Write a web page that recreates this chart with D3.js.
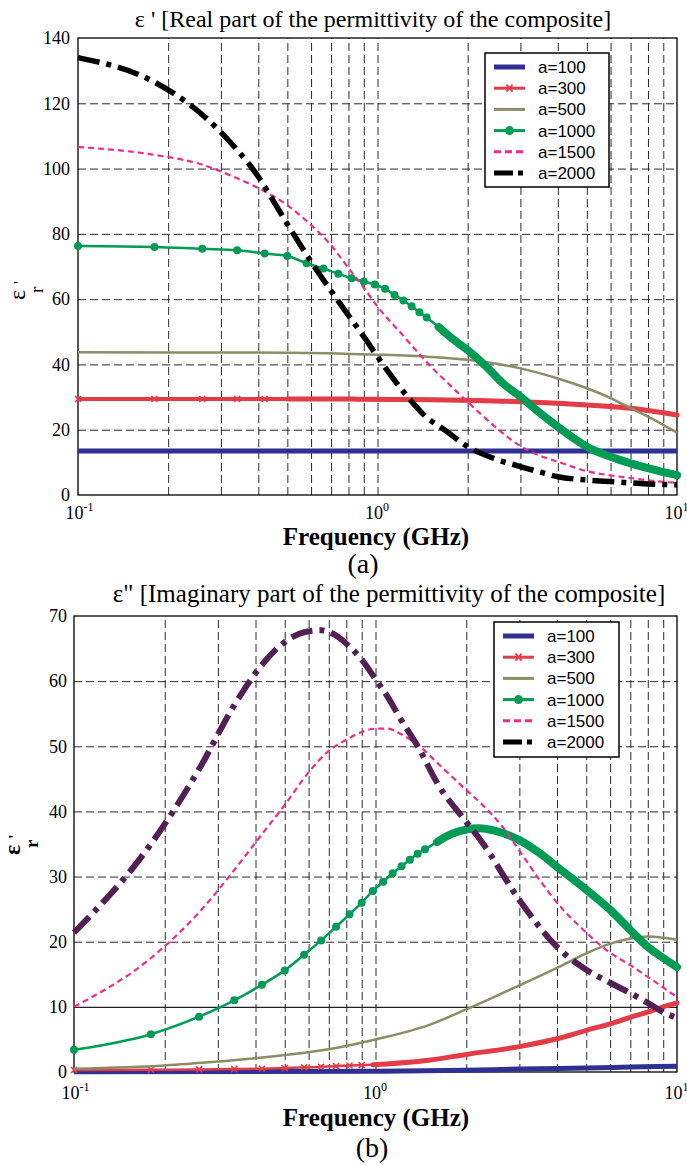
<!DOCTYPE html>
<html>
<head>
<meta charset="utf-8">
<script src="https://cdn.jsdelivr.net/npm/d3@7"></script>
<style>
	body { margin: 0; background: #fff; }
	svg { display: block; }
</style>
</head>
<body>
<div class="content"></div>
<script>
const w = 687;
const h = 1165;

const serif = "'Liberation Serif', 'Times New Roman', serif";
const sans = "'Liberation Sans', Arial, sans-serif";

// ---- data ----
const seriesNames = ['a=100', 'a=300', 'a=500', 'a=1000', 'a=1500', 'a=2000'];
const freqTicks = [0.1, 1, 10];
const tickExponents = ['-1', '0', '1'];
const gridFreqs = [0.2, 0.3, 0.4, 0.5, 0.6, 0.7, 0.8, 0.9, 1, 2, 3, 4, 5, 6, 7, 8, 9];
const realTicks = [0, 20, 40, 60, 80, 100, 120, 140];
const imagTicks = [0, 10, 20, 30, 40, 50, 60, 70];

// (a) real part, [frequency GHz, eps']
const realA100 = [[0.1, 13.5], [1, 13.5], [10, 13.5]];
const realA300 = [[0.1, 29.4], [0.18, 29.4], [0.26, 29.4], [0.34, 29.4], [0.42, 29.4], [0.5, 29.4], [0.58, 29.4],
	[0.66, 29.4], [0.74, 29.4], [0.82, 29.4], [0.9, 29.3], [1.5, 29.2], [2, 29.0], [3, 28.6], [4, 28.1],
	[5, 27.6], [6, 27.1], [7, 26.6], [8, 25.9], [9, 25.2], [10, 24.5]];
const realA500 = [[0.1, 43.7], [0.5, 43.6], [1, 43.0], [1.5, 42.3], [2, 41.4], [2.5, 40.2], [3, 38.8], [4, 35.7],
	[5, 32.7], [6, 29.7], [7, 26.6], [8, 24.0], [9, 21.5], [10, 19.1]];
const realA1000 = [[0.1, 76.3], [0.18, 76.0], [0.26, 75.4], [0.34, 75.0], [0.42, 74.0], [0.5, 73.2], [0.58, 71.0],
	[0.66, 69.4], [0.74, 67.8], [0.82, 66.4], [0.9, 65.4], [0.98, 64.5], [1.06, 63.2], [1.14, 61.3], [1.22, 59.6],
	[1.3, 57.8], [1.38, 56.0], [1.46, 54.4], [1.6, 51.5], [1.8, 47.5], [2, 44.4], [2.3, 39.5], [2.6, 34.5],
	[3, 30.1], [3.5, 25.0], [4, 20.9], [4.5, 17.5], [5, 14.8], [6, 11.7], [7, 9.7], [8, 8.2], [9, 7.0], [10, 6.1]];
const realA1500 = [[0.1, 106.6], [0.18, 104.2], [0.26, 101.2], [0.34, 97.0], [0.42, 93.0], [0.5, 88.8], [0.6, 82.7],
	[0.7, 76.5], [0.8, 69.5], [0.9, 63.5], [1, 57.7], [1.2, 49.5], [1.4, 42.5], [1.6, 37.0], [1.8, 32.5],
	[2, 28.5], [2.2, 25.0], [2.5, 20.5], [3, 15.0], [3.5, 12.0], [4, 10.2], [5, 7.3], [6, 6.0], [7, 5.2],
	[8, 4.5], [10, 3.7]];
const realA2000 = [[0.1, 134.0], [0.18, 126.5], [0.26, 116.5], [0.34, 105.7], [0.4, 97.5], [0.44, 91.4], [0.5, 83.0],
	[0.6, 71.5], [0.7, 62.5], [0.8, 55.0], [0.9, 48.5], [1, 42.4], [1.2, 32.5], [1.43, 24.5], [1.7, 19.5],
	[2, 14.8], [2.4, 11.5], [3, 8.7], [3.5, 7.0], [4, 5.6], [5, 4.6], [6, 4.1], [7, 3.7], [8, 3.4], [10, 3.1]];

// (b) imaginary part, [frequency GHz, eps'']
const imagA100 = [[0.1, 0.05], [1, 0.1], [2, 0.25], [3, 0.45], [5, 0.6], [7, 0.75], [10, 0.9]];
const imagA300 = [[0.1, 0.3], [0.18, 0.35], [0.26, 0.4], [0.34, 0.45], [0.42, 0.5], [0.5, 0.6], [0.58, 0.7],
	[0.66, 0.8], [0.74, 0.9], [0.82, 1.0], [0.9, 1.05], [0.98, 1.1], [1.5, 1.8], [2, 2.7], [3, 3.9], [4, 5.1],
	[5, 6.4], [6, 7.4], [7, 8.4], [8, 9.2], [9, 10.0], [10, 10.6]];
const imagA500 = [[0.1, 0.5], [0.2, 1.0], [0.3, 1.6], [0.4, 2.1], [0.5, 2.6], [0.7, 3.5], [1, 5.0], [1.5, 7.2],
	[2, 9.6], [2.5, 11.6], [3, 13.3], [4, 16.0], [5, 18.2], [6, 19.7], [7, 20.5], [8, 20.8], [9, 20.6], [10, 20.3]];
const imagA1000 = [[0.1, 3.4], [0.18, 5.8], [0.26, 8.5], [0.34, 11.0], [0.42, 13.4], [0.5, 15.6], [0.58, 18.0],
	[0.66, 20.2], [0.74, 22.3], [0.82, 24.2], [0.9, 26.0], [0.98, 27.8], [1.06, 29.2], [1.14, 30.5], [1.22, 31.6],
	[1.3, 32.6], [1.38, 33.5], [1.46, 34.2], [1.6, 35.3], [1.8, 36.6], [2, 37.2], [2.2, 37.4], [2.5, 37.0],
	[3, 35.6], [3.5, 33.6], [4, 31.5], [5, 28.0], [6, 24.9], [7, 21.8], [8, 19.2], [9, 17.5], [10, 16.1]];
const imagA1500 = [[0.1, 10.0], [0.18, 17.5], [0.26, 24.5], [0.34, 31.0], [0.42, 36.5], [0.5, 41.0], [0.6, 46.0],
	[0.7, 49.3], [0.8, 51.0], [0.9, 52.2], [1, 52.7], [1.1, 52.7], [1.2, 52.0], [1.4, 50.0], [1.65, 46.9],
	[2, 43.3], [2.23, 41.3], [2.6, 38.0], [3, 34.0], [3.5, 29.5], [4, 26.0], [5, 21.4], [6, 18.3], [7, 16.4],
	[8, 14.6], [10, 11.5]];
const imagA2000 = [[0.1, 21.4], [0.18, 35.0], [0.26, 46.5], [0.34, 56.3], [0.42, 62.5], [0.5, 66.0], [0.58, 67.5],
	[0.66, 67.8], [0.74, 67.0], [0.82, 65.3], [0.9, 63.3], [1, 60.3], [1.1, 57.5], [1.2, 54.5],
	[1.4, 49.5], [1.6, 44.4], [2, 38.4], [2.23, 35.6], [3, 26.4], [4, 19.2], [5, 15.7], [6, 13.7], [7, 12.1],
	[8, 10.6], [9, 9.2], [10, 8.3]];

// ---- styles ----
const seriesStyles = [
	{ color: '#2e3192', width: 5 },
	{ color: '#e23d47', width: 2.5, marker: 'x', bandFrom: 0.95, bandWidth: 5 },
	{ color: '#8c8c66', width: 2.5 },
	{ color: '#009b55', width: 2.5, marker: 'o', bandFrom: 1.5, bandWidth: 8 },
	{ color: '#ee2a8f', width: 2.2, dash: '6,4' },
	{ color: '#000', width: 5.5, dash: '22,7,5,7' }
];

const content = d3.select('.content');

const svg = content.append('svg')
	.attr('width', w)
	.attr('height', h);

function drawPanel(p) {
	const x = d3.scaleLog().domain([0.1, 10]).range([p.left, p.right]);
	const y = d3.scaleLinear().domain([0, p.yMax]).range([p.bottom, p.top]);

	svg.append('text')
		.attr('x', p.titleX)
		.attr('y', p.titleY)
		.attr('text-anchor', 'middle')
		.style('font-family', serif)
		.style('font-size', p.titleSize)
		.text(p.title);

	// grid
	const gx = svg.append('g')
		.attr('transform', 'translate(0,' + p.bottom + ')')
		.call(d3.axisBottom(x).tickValues(gridFreqs).tickSize(-(p.bottom - p.top)).tickFormat(''));
	gx.select('.domain').remove();
	gx.selectAll('line')
		.attr('stroke', '#2a2a2a')
		.attr('stroke-width', 1)
		.attr('stroke-dasharray', '8,4');

	const gy = svg.append('g')
		.attr('transform', 'translate(' + p.left + ',0)')
		.call(d3.axisLeft(y).tickValues(p.ticks.slice(1, -1)).tickSize(-(p.right - p.left)).tickFormat(''));
	gy.select('.domain').remove();
	gy.selectAll('line')
		.attr('stroke', (d) => d === p.solidGrid ? '#222' : '#2a2a2a')
		.attr('stroke-width', (d) => d === p.solidGrid ? 1.3 : 1)
		.attr('stroke-dasharray', (d) => d === p.solidGrid ? null : '8,4');

	svg.append('rect')
		.attr('x', p.left)
		.attr('y', p.top)
		.attr('width', p.right - p.left)
		.attr('height', p.bottom - p.top)
		.attr('fill', 'none')
		.attr('stroke', '#000')
		.attr('stroke-width', 1.3);

	const line = d3.line()
		.x((d) => x(d[0]))
		.y((d) => y(d[1]))
		.curve(d3.curveMonotoneX);

	p.series.forEach((data, i) => {
		const s = Object.assign({}, seriesStyles[i], (p.override && p.override[i]) || {});
		const g = svg.append('g');
		g.append('path')
			.datum(data)
			.attr('d', line)
			.attr('fill', 'none')
			.attr('stroke', s.color)
			.attr('stroke-width', s.width)
			.attr('stroke-dasharray', s.dash || null);
		if (s.bandFrom) {
			g.append('path')
				.datum(data.filter((d) => d[0] >= s.bandFrom))
				.attr('d', line)
				.attr('fill', 'none')
				.attr('stroke', s.color)
				.attr('stroke-linecap', 'round')
				.attr('stroke-width', s.bandWidth);
		}
		if (s.marker === 'o') {
			g.selectAll('circle')
				.data(data.filter((d) => d[0] < s.bandFrom))
				.enter()
				.append('circle')
				.attr('cx', (d) => x(d[0]))
				.attr('cy', (d) => y(d[1]))
				.attr('r', 4)
				.attr('fill', s.color);
		}
		if (s.marker === 'x') {
			g.selectAll('.mk')
				.data(data.filter((d) => d[0] < s.bandFrom))
				.enter()
				.append('path')
				.attr('class', 'mk')
				.attr('transform', (d) => 'translate(' + x(d[0]) + ',' + y(d[1]) + ')')
				.attr('d', 'M-3,-3L3,3M-3,3L3,-3')
				.attr('stroke', s.color)
				.attr('stroke-width', 1.6);
		}
	});

	// y axis labels
	const ay = svg.append('g')
		.attr('transform', 'translate(' + p.left + ',0)')
		.call(d3.axisLeft(y).tickValues(p.ticks).tickSize(0).tickPadding(p.left - p.yLabelRight));
	ay.select('.domain').remove();
	ay.selectAll('text')
		.style('font-family', serif)
		.style('font-size', '18px')
		.attr('fill', '#000');

	// x axis labels
	const ax = svg.append('g')
		.attr('transform', 'translate(0,' + p.bottom + ')')
		.call(d3.axisBottom(x).tickValues(freqTicks).tickSize(0).tickFormat(() => ''));
	ax.select('.domain').remove();
	ax.selectAll('.tick text').each(function (d, i) {
		const t = d3.select(this)
			.attr('text-anchor', 'start')
			.attr('x', -13)
			.attr('y', p.tickY)
			.attr('dy', null)
			.attr('fill', '#000')
			.style('font-family', serif)
			.style('font-size', '18px');
		t.append('tspan').text('10');
		t.append('tspan').attr('dy', -8).style('font-size', '12px').text(tickExponents[i]);
	});

	svg.append('text')
		.attr('x', p.xLabelX)
		.attr('y', p.bottom + p.freqY)
		.attr('text-anchor', 'middle')
		.style('font-family', serif)
		.style('font-size', '25px')
		.style('font-weight', 'bold')
		.text('Frequency (GHz)');

	svg.append('text')
		.attr('x', p.capX)
		.attr('y', p.bottom + p.capY)
		.attr('text-anchor', 'middle')
		.style('font-family', serif)
		.style('font-size', '28px')
		.text(p.caption);

	// y label: eps'_r
	const yl = svg.append('text')
		.attr('transform', 'translate(' + p.yTitleX + ',' + p.yTitleY + ') rotate(-90)')
		.style('font-family', serif)
		.style('font-weight', p.yTitleBold ? 'bold' : 'normal');
	yl.append('tspan').attr('x', 0).attr('y', 0).style('font-size', '24px').text('ε');
	yl.append('tspan').attr('x', 16).attr('y', 0).style('font-size', '17px').text("'");
	yl.append('tspan').attr('x', 7).attr('y', 18).style('font-size', '19px').text('r');

	// legend
	const lg = svg.append('g')
		.attr('transform', 'translate(' + p.legendX + ',' + p.legendY + ')');
	lg.append('rect')
		.attr('width', p.legendW)
		.attr('height', p.legendH)
		.attr('fill', '#fff')
		.attr('stroke', '#000')
		.attr('stroke-width', 1.5);
	seriesNames.forEach((name, i) => {
		const s = seriesStyles[i];
		const ly = 14 + i * 21.2;
		const row = lg.append('g').attr('transform', 'translate(0,' + ly + ')');
		row.append('line')
			.attr('x1', 9)
			.attr('x2', 40)
			.attr('stroke', s.color)
			.attr('stroke-width', i === 0 || i === 5 ? 5 : 3)
			.attr('stroke-dasharray', i === 4 ? '7,4' : (i === 5 ? '19,5,5,5' : null));
		if (s.marker === 'o') {
			row.append('circle').attr('cx', 24.5).attr('r', 4.5).attr('fill', s.color);
		}
		if (s.marker === 'x') {
			row.append('path')
				.attr('transform', 'translate(24.5,0)')
				.attr('d', 'M-3,-3.5L3,3.5M-3,3.5L3,-3.5')
				.attr('stroke', s.color)
				.attr('stroke-width', 1.8);
		}
		row.append('text')
			.attr('x', 53)
			.attr('y', 6)
			.style('font-family', sans)
			.style('font-size', '17px')
			.text(name);
	});
}

drawPanel({
	left: 78, right: 677, top: 38, bottom: 495, yMax: 140,
	ticks: realTicks,
	series: [realA100, realA300, realA500, realA1000, realA1500, realA2000],
	override: { 1: { width: 4, bandFrom: 0.5 } },
	title: "ε ' [Real part of the permittivity of the composite]",
	titleX: 373, titleY: 27, titleSize: '24px',
	yLabelRight: 70,
	tickY: 24, freqY: 50, capY: 78,
	xLabelX: 376, capX: 363, caption: '(a)',
	yTitleX: 25, yTitleY: 300,
	legendX: 485, legendY: 53, legendW: 124, legendH: 134
});

drawPanel({
	left: 74, right: 677, top: 616, bottom: 1072, yMax: 70,
	ticks: imagTicks,
	series: [imagA100, imagA300, imagA500, imagA1000, imagA1500, imagA2000],
	override: { 5: { color: '#531f55', width: 6 } },
	solidGrid: 10,
	title: 'ε" [Imaginary part of the permittivity of the composite]',
	titleX: 389, titleY: 602, titleSize: '25px',
	yLabelRight: 67,
	tickY: 27, freqY: 54, capY: 85,
	xLabelX: 376, capX: 372, caption: '(b)',
	yTitleX: 20, yTitleY: 855, yTitleBold: true,
	legendX: 494, legendY: 622, legendW: 125, legendH: 135
});
</script>
</body>
</html>
